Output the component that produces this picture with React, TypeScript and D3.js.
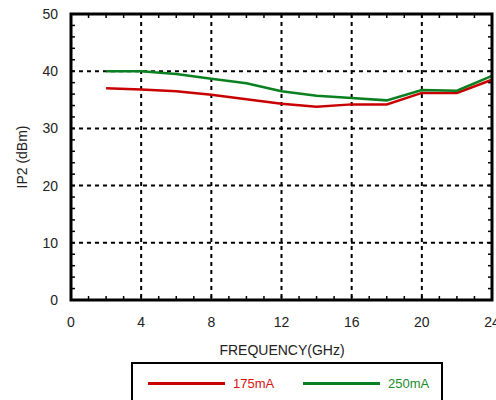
import React from "react";
import * as d3 from "d3";

const freqs = [2, 4, 6, 8, 10, 12, 14, 16, 18, 20, 22, 24];
const ip2_175 = [37.0, 36.8, 36.5, 35.9, 35.1, 34.3, 33.8, 34.2, 34.2, 36.2, 36.2, 38.5];
const ip2_250 = [40.0, 40.0, 39.5, 38.7, 37.9, 36.5, 35.7, 35.3, 34.9, 36.7, 36.6, 39.2];
const xTicks = [0, 4, 8, 12, 16, 20, 24];
const yTicks = [0, 10, 20, 30, 40, 50];
const seriesNames = ["175mA", "250mA"];
const colors = ["#c80000", "#0a8020"];
const textColors = ["#dd1111", "#1a8a2a"];

export default function App() {
  const W = 496, H = 400;
  const L = 71, R = 492, T = 14, B = 300;
  const x = d3.scaleLinear().domain([0, 24]).range([L, R]);
  const y = d3.scaleLinear().domain([0, 50]).range([B, T]);
  const line = d3.line<number>().x((_, i) => x(freqs[i])).y((d) => y(d));
  const minorX = d3.range(0, 25, 1);
  const minorY = d3.range(0, 51, 2);
  const font = "'Liberation Sans', Arial, sans-serif";
  const series = [ip2_175, ip2_250];
  return (
    <svg width={W} height={H} style={{ position: "absolute", left: 0, top: 0 }} fontFamily={font}>
      <rect width={W} height={H} fill="#fff" />
      {/* grid */}
      {xTicks.slice(1, -1).map((t) => (
        <line key={"gx" + t} x1={x(t)} x2={x(t)} y1={T} y2={B} stroke="#000" strokeWidth={2} strokeDasharray="4,4" />
      ))}
      {yTicks.slice(1, -1).map((t) => (
        <line key={"gy" + t} x1={L} x2={R} y1={y(t)} y2={y(t)} stroke="#000" strokeWidth={2} strokeDasharray="4,4" />
      ))}
      {/* minor ticks */}
      {minorX.map((t) => (
        <g key={"mx" + t}>
          <line x1={x(t)} x2={x(t)} y1={B} y2={B - 4} stroke="#000" strokeWidth={1.5} />
          <line x1={x(t)} x2={x(t)} y1={T} y2={T + 4} stroke="#000" strokeWidth={1.5} />
        </g>
      ))}
      {minorY.map((t) => (
        <g key={"my" + t}>
          <line x1={L} x2={L + 4} y1={y(t)} y2={y(t)} stroke="#000" strokeWidth={1.5} />
          <line x1={R} x2={R - 4} y1={y(t)} y2={y(t)} stroke="#000" strokeWidth={1.5} />
        </g>
      ))}
      {/* series */}
      {series.map((s, i) => (
        <path key={"s" + i} d={line(s) || ""} fill="none" stroke={colors[i]} strokeWidth={2.5} />
      ))}
      {/* border */}
      <rect x={L} y={T} width={R - L} height={B - T} fill="none" stroke="#000" strokeWidth={3} />
      {/* tick labels */}
      {xTicks.map((t) => (
        <text key={"tx" + t} x={x(t)} y={327} textAnchor="middle" fontSize={14} fill="#222">{t}</text>
      ))}
      {yTicks.map((t) => (
        <text key={"ty" + t} x={58} y={y(t) + 5} textAnchor="end" fontSize={14} fill="#222">{t}</text>
      ))}
      <text x={282} y={355} textAnchor="middle" fontSize={14} fill="#222">FREQUENCY(GHz)</text>
      <text transform={`translate(27,157) rotate(-90)`} textAnchor="middle" fontSize={14} fill="#222">IP2 (dBm)</text>
      {/* legend */}
      <rect x={132} y={363} width={310} height={50} fill="#fff" stroke="#000" strokeWidth={2} />
      {seriesNames.map((n, i) => (
        <g key={"lg" + i}>
          <line x1={148 + i * 155} x2={225 + i * 155} y1={383.5} y2={383.5} stroke={colors[i]} strokeWidth={3} />
          <text x={233 + i * 155} y={388} fontSize={13} fill={textColors[i]}>{n}</text>
        </g>
      ))}
    </svg>
  );
}
